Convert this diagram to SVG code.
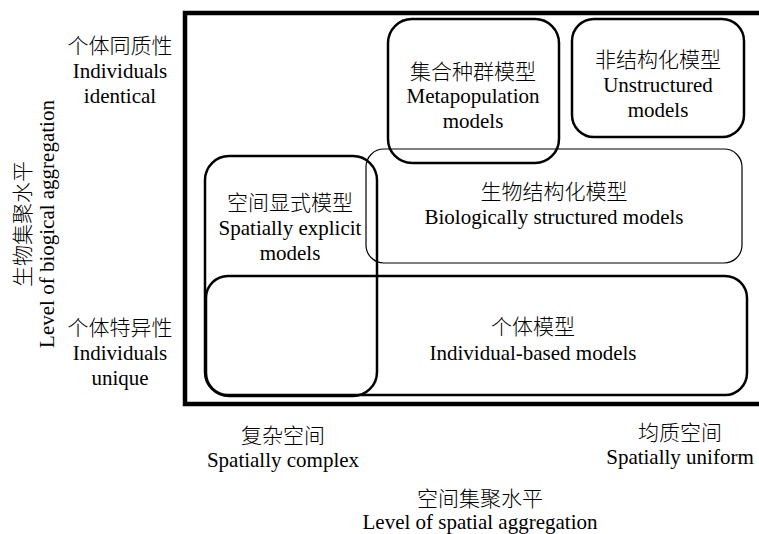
<svg xmlns="http://www.w3.org/2000/svg" width="759" height="534" viewBox="0 0 759 534">
<style>
.en{font-family:"Liberation Serif","Times New Roman",serif;font-size:21px;fill:#000;text-anchor:middle}
.zh{font-family:"Noto Sans CJK SC","Noto Sans CJK JP",sans-serif;font-size:21px;font-weight:300;fill:#000;text-anchor:middle}
.box{fill:none;stroke:#000;stroke-width:2.5}
.thin{fill:none;stroke:#000;stroke-width:1.2}
</style>
<rect width="759" height="534" fill="#fff"/>
<g id="frame"><path d="M763,13 H185 V404 H763" fill="none" stroke="#000" stroke-width="4.5"/></g>
<g id="axis-y">
<text class="zh" transform="translate(30,224) rotate(-90)">生物集聚水平</text>
<text class="en" transform="translate(54,224) rotate(-90)">Level of biogical aggregation</text>
</g>
<g id="label-identical">
<text class="zh" x="120" y="53">个体同质性</text>
<text class="en" x="120" y="78">Individuals</text>
<text class="en" x="120" y="103">identical</text>
</g>
<g id="label-unique">
<text class="zh" x="120" y="335">个体特异性</text>
<text class="en" x="120" y="360">Individuals</text>
<text class="en" x="120" y="385">unique</text>
</g>
<g id="label-complex">
<text class="zh" x="283" y="443">复杂空间</text>
<text class="en" x="283" y="467">Spatially complex</text>
</g>
<g id="label-uniform">
<text class="zh" x="680" y="440">均质空间</text>
<text class="en" x="680" y="464">Spatially uniform</text>
</g>
<g id="axis-x">
<text class="zh" x="480" y="506">空间集聚水平</text>
<text class="en" x="480" y="529">Level of spatial aggregation</text>
</g>
<g id="bio-structured">
<rect class="thin" x="366" y="149" width="376" height="114" rx="18"/>
<text class="zh" x="554" y="199">生物结构化模型</text>
<text class="en" x="554" y="224">Biologically structured models</text>
</g>
<g id="metapopulation">
<rect class="box" x="388" y="19" width="171" height="144" rx="24"/>
<text class="zh" x="473" y="79">集合种群模型</text>
<text class="en" x="473" y="103">Metapopulation</text>
<text class="en" x="473" y="128">models</text>
</g>
<g id="unstructured">
<rect class="box" x="572" y="19" width="172" height="118" rx="22"/>
<text class="zh" x="658" y="67">非结构化模型</text>
<text class="en" x="658" y="92">Unstructured</text>
<text class="en" x="658" y="117">models</text>
</g>
<g id="individual-based">
<rect class="box" x="206" y="276" width="541" height="119" rx="22"/>
<text class="zh" x="533" y="334">个体模型</text>
<text class="en" x="533" y="360">Individual-based models</text>
</g>
<g id="spatially-explicit">
<rect class="box" x="205" y="156" width="172" height="240" rx="24"/>
<text class="zh" x="290" y="210">空间显式模型</text>
<text class="en" x="290" y="235">Spatially explicit</text>
<text class="en" x="290" y="260">models</text>
</g>
<g id="connectors"></g>
</svg>
